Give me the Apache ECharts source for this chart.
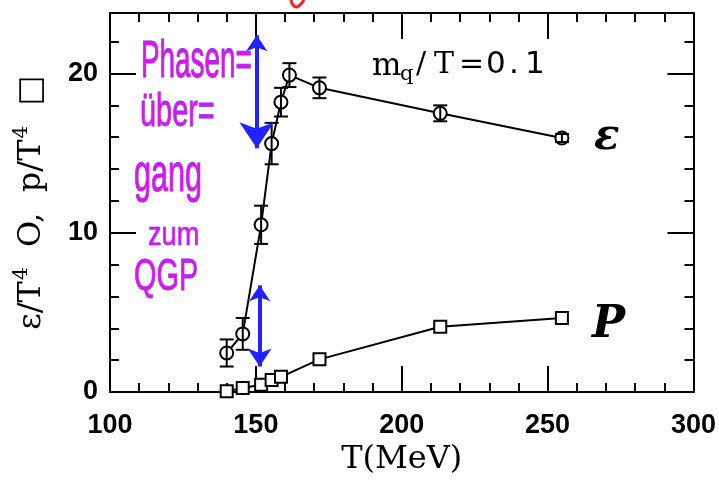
<!DOCTYPE html>
<html>
<head>
<meta charset="utf-8">
<script src="https://cdn.jsdelivr.net/npm/echarts@6/dist/echarts.min.js"></script>
<style>html,body{margin:0;padding:0;background:#fff;}#c{width:719px;height:483px;}</style>
</head>
<body>
<div id="c"></div>
<script>
// Energy density epsilon/T^4 (circles) with error bars
const epsT   = [140.0, 145.5, 151.8, 155.4, 158.6, 161.5, 171.8, 213.2, 254.9];
const epsVal = [2.45, 3.65, 10.5, 15.6, 18.2, 19.9, 19.1, 17.5, 15.95];
const epsErr = [0.85, 1.0, 1.2, 1.3, 0.9, 0.75, 0.65, 0.5, 0.25];
// Pressure p/T^4 (squares)
const pT   = [140.0, 145.5, 151.8, 155.4, 158.6, 171.8, 213.2, 254.9];
const pVal = [0.05, 0.25, 0.45, 0.75, 0.95, 2.05, 4.1, 4.65];
// Axis ticks
const xTicks = [100, 150, 200, 250, 300];
const yTicks = [0, 10, 20];

const chart = echarts.init(document.getElementById('c'), null, {renderer: 'canvas'});
const BLK = '#000';
const sansF = '"Liberation Sans", Arial, sans-serif';
const serifF = '"DejaVu Serif", "Liberation Serif", serif';

function xAx(pos, showLabel) {
  return {
    type: 'value', min: xTicks[0], max: xTicks[xTicks.length - 1], interval: 50, position: pos,
    axisLine: {show: true, onZero: false, lineStyle: {color: BLK, width: 2}},
    axisTick: {show: true, inside: true, length: 26, lineStyle: {color: BLK, width: 2}},
    minorTick: {show: true, splitNumber: 5, length: 9, lineStyle: {color: BLK, width: 2}},
    splitLine: {show: false}, minorSplitLine: {show: false},
    axisLabel: {show: showLabel, color: BLK, fontSize: 27, fontWeight: 'bold', fontFamily: sansF, margin: 20},
    name: showLabel ? 'T(MeV)' : '', nameLocation: 'middle', nameGap: 52,
    nameTextStyle: {color: BLK, fontSize: 32, fontFamily: serifF}
  };
}
function yAx(pos, showLabel) {
  return {
    type: 'value', min: 0, max: 23.8, interval: 10, position: pos,
    axisLine: {show: true, onZero: false, lineStyle: {color: BLK, width: 2}},
    axisTick: {show: true, inside: true, length: 26, lineStyle: {color: BLK, width: 2}},
    minorTick: {show: true, splitNumber: 5, length: 9, lineStyle: {color: BLK, width: 2}},
    splitLine: {show: false}, minorSplitLine: {show: false},
    axisLabel: {show: showLabel, color: BLK, fontSize: 27, fontWeight: 'bold', fontFamily: sansF, margin: 12,
      formatter: v => yTicks.indexOf(v) >= 0 ? String(v) : ''},
    name: showLabel ? '{a|ε/T}{s|4}{a|  O,  p/T}{s|4}{a|  □}' : '',
    nameLocation: 'middle', nameGap: 62, nameRotate: 90,
    nameTextStyle: {color: BLK, fontSize: 32, fontFamily: serifF,
      rich: {
        a: {fontSize: 32, fontFamily: serifF, color: BLK, lineHeight: 36, verticalAlign: 'bottom'},
        s: {fontSize: 20, fontFamily: serifF, color: BLK, lineHeight: 36, verticalAlign: 'top', padding: [0, 0, 12, 1]}
      }}
  };
}

const errData = epsT.map((t, i) => [t, epsVal[i], epsErr[i]]);

const option = {
  backgroundColor: '#fff',
  animation: false,
  grid: {left: 110, right: 24, top: 13, bottom: 91, containLabel: false},
  xAxis: [xAx('bottom', true), xAx('top', false)],
  yAxis: [yAx('left', true), yAx('right', false)],
  series: [
    {
      type: 'line', name: 'eps', xAxisIndex: 0, yAxisIndex: 0,
      data: epsT.map((t, i) => [t, epsVal[i]]),
      symbol: 'emptyCircle', symbolSize: 13,
      itemStyle: {color: BLK, borderColor: BLK, borderWidth: 2},
      lineStyle: {color: BLK, width: 2},
      z: 3,
      endLabel: {show: true, formatter: 'ε', color: BLK, fontSize: 42, fontStyle: 'italic', fontWeight: 'bold',
        fontFamily: serifF, distance: 32},
      markLine: {
        silent: true, animation: false,
        symbol: ['arrow', 'arrow'],
        label: {show: false},
        lineStyle: {color: '#2222ff', width: 4, type: 'solid'},
        data: [
          [{coord: [150.3, 22.4], symbolSize: 16}, {coord: [150.3, 15.3], symbolSize: 26}],
          [{coord: [151.3, 6.7], symbolSize: 16}, {coord: [151.3, 1.6], symbolSize: 18}]
        ]
      }
    },
    {
      type: 'line', name: 'p', xAxisIndex: 0, yAxisIndex: 0,
      data: pT.map((t, i) => [t, pVal[i]]),
      symbol: 'emptyRect', symbolSize: 12,
      itemStyle: {color: BLK, borderColor: BLK, borderWidth: 2},
      lineStyle: {color: BLK, width: 2},
      z: 3,
      endLabel: {show: true, formatter: 'P', color: BLK, fontSize: 44, fontStyle: 'italic', fontWeight: 'bold',
        fontFamily: serifF, distance: 30, offset: [0, 8]}
    },
    {
      type: 'custom', name: 'err', xAxisIndex: 0, yAxisIndex: 0,
      data: errData, encode: {x: 0, y: 1}, z: 4,
      renderItem: function (params, api) {
        const x = api.value(0), y = api.value(1), e = api.value(2);
        const a = api.coord([x, y + e]), b = api.coord([x, y - e]);
        const w = 7;
        const st = {stroke: BLK, lineWidth: 2};
        return {type: 'group', children: [
          {type: 'line', shape: {x1: a[0], y1: a[1], x2: b[0], y2: b[1]}, style: st},
          {type: 'line', shape: {x1: a[0] - w, y1: a[1], x2: a[0] + w, y2: a[1]}, style: st},
          {type: 'line', shape: {x1: b[0] - w, y1: b[1], x2: b[0] + w, y2: b[1]}, style: st}
        ]};
      }
    }
  ],
  graphic: (function () {
    const hand = {fill: '#e410f4', stroke: '#5030ff', lineWidth: 0.6,
      font: '34px "Liberation Sans", sans-serif', verticalAlign: 'top'};
    const mk = (txt, x, y, sx, sy) => ({type: 'text', x: x, y: y, scaleX: sx, scaleY: sy, z: 10,
      style: Object.assign({text: txt}, hand)});
    const tex = (txt, x, y, size, fam) => ({type: 'text', x: x, y: y, z: 10,
      style: {text: txt, fill: BLK, font: size + 'px ' + fam, verticalAlign: 'top'}});
    const ser = '"DejaVu Serif", serif';
    const san = '"DejaVu Sans", sans-serif';
    return [
      mk('Phasen=', 141, 36, 0.82, 1.55),
      mk('über=', 140, 90, 0.85, 1.35),
      mk('gang', 134, 150, 0.9, 1.55),
      mk('zum', 148, 220, 0.8, 0.95),
      mk('QGP', 134, 256, 0.85, 1.3),
      tex('m', 372, 51, 31, ser),
      tex('q', 400, 64, 21, ser),
      tex('/', 416, 50, 30, ser),
      tex('T', 434, 50, 30, ser),
      tex('=', 459, 50, 30, ser),
      tex('0', 486, 49, 31, san),
      tex('.', 509, 49, 31, san),
      tex('1', 525, 49, 31, san),
      {type: 'polyline', z: 10, shape: {points: [[291, 0], [293, 5], [297, 7], [301, 4], [304, 0]], smooth: 0.4},
        style: {stroke: '#ff1a1a', lineWidth: 3, fill: null}}
    ];
  })()
};
chart.setOption(option);
</script>
</body>
</html>
